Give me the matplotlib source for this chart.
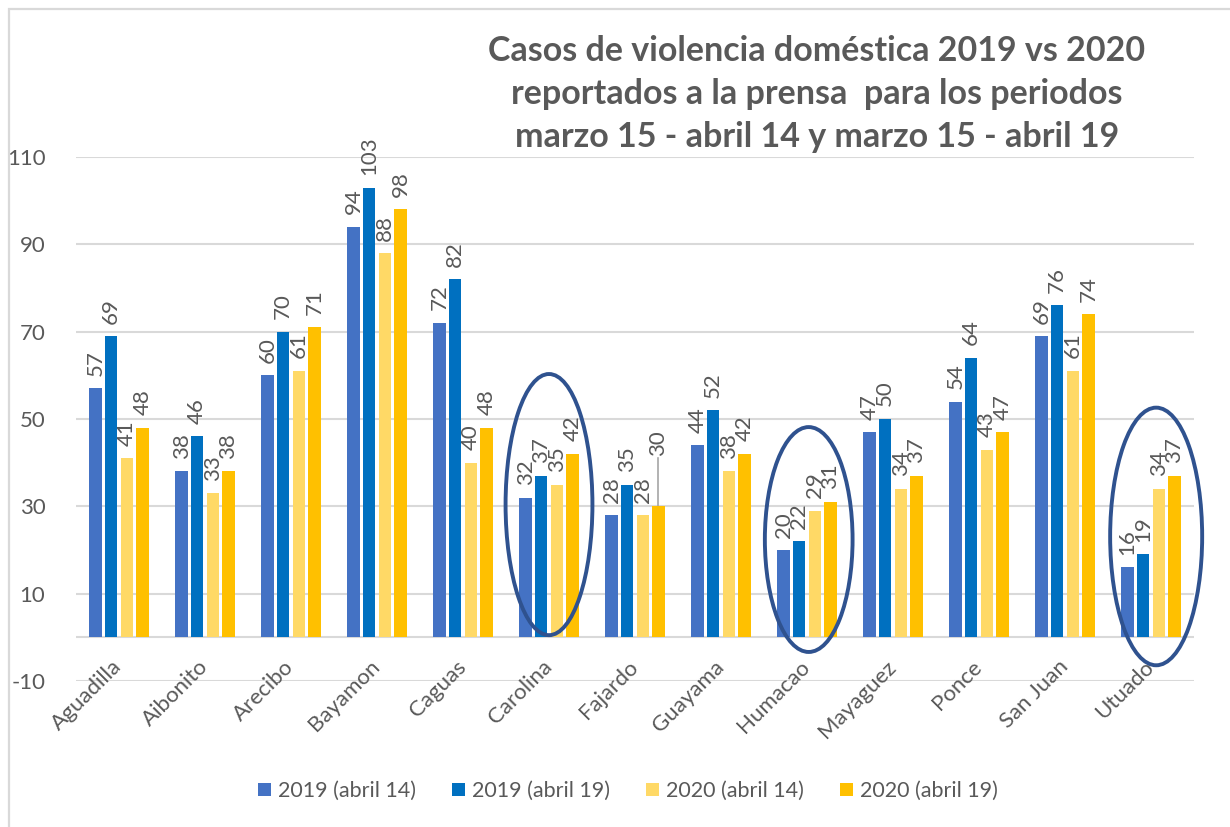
import matplotlib
matplotlib.use("Agg")
import matplotlib.pyplot as plt
from matplotlib.patches import Ellipse, Rectangle
from matplotlib.transforms import offset_copy
import numpy as np

plt.rcParams['font.family'] = ['Lato', 'DejaVu Sans']

categories = ["Aguadilla", "Aibonito", "Arecibo", "Bayamon", "Caguas", "Carolina",
              "Fajardo", "Guayama", "Humacao", "Mayaguez", "Ponce", "San Juan", "Utuado"]
series_names = ["2019 (abril 14)", "2019 (abril 19)", "2020 (abril 14)", "2020 (abril 19)"]
s2019_abr14 = [57, 38, 60, 94, 72, 32, 28, 44, 20, 47, 54, 69, 16]
s2019_abr19 = [69, 46, 70, 103, 82, 37, 35, 52, 22, 50, 64, 76, 19]
s2020_abr14 = [41, 33, 61, 88, 40, 35, 28, 38, 29, 34, 43, 61, 34]
s2020_abr19 = [48, 38, 71, 98, 48, 42, 30, 42, 31, 37, 47, 74, 37]
yticks = [-10, 10, 30, 50, 70, 90, 110]
title = ("Casos de violencia doméstica 2019 vs 2020\n"
         "reportados a la prensa  para los periodos\n"
         "marzo 15 - abril 14 y marzo 15 - abril 19")
highlighted = ["Carolina", "Humacao", "Utuado"]

colors = ["#4472C4", "#0070C0", "#FFD966", "#FFC000"]
text_color = "#595959"
grid_color = "#D9D9D9"

fig = plt.figure(figsize=(12.3, 8.27), dpi=100)
fig.patch.set_facecolor("white")
# outer chart border
fig.add_artist(Rectangle((9/1230, -0.01), 1.02, 1 - 9/827 + 0.01, transform=fig.transFigure,
                         fill=False, edgecolor=grid_color, linewidth=1.6))

ax = fig.add_axes([76/1230, 1 - 681/827, (1194 - 76)/1230, (681 - 157)/827])
series = [s2019_abr14, s2019_abr19, s2020_abr14, s2020_abr19]
x = np.arange(len(categories))
step = 0.182
width = 0.143
for i, (vals, c, name) in enumerate(zip(series, colors, series_names)):
    pos = x + (i - 1.5) * step
    ax.bar(pos, vals, width=width, color=c, label=name, zorder=3)
    for j, (p, v) in enumerate(zip(pos, vals)):
        if categories[j] == "Fajardo" and i == 3:
            lift = 11.5
            ax.plot([p, p], [v, v + lift - 0.5], color="#A6A6A6", lw=1.2, zorder=2)
            ax.text(p, v + lift, str(v), rotation=90, ha="center", va="bottom",
                    fontsize=16, color=text_color, clip_on=False, zorder=4)
        else:
            tr = offset_copy(ax.transData, fig=fig, x=0, y=9, units="points")
            ax.text(p, v, str(v), rotation=90, ha="center", va="bottom",
                    fontsize=16, color=text_color, clip_on=False, zorder=4,
                    transform=tr)

ax.set_xlim(-0.5, len(categories) - 0.5)
ax.set_ylim(-10, 110)
ax.set_yticks(yticks)
ax.set_yticklabels([str(t) for t in yticks], fontsize=16, color=text_color)
ax.tick_params(axis="y", length=0, pad=22)
ax.set_xticks([])
for sp in ax.spines.values():
    sp.set_visible(False)
for t in yticks:
    ax.axhline(t, color=grid_color, lw=1.5, zorder=1)
ax.axhline(0, color=grid_color, lw=1.5, zorder=1)

lab_tr = offset_copy(ax.transData, fig=fig, x=0, y=-19, units="points")
for j, cat in enumerate(categories):
    ax.text(j, 0, cat, rotation=45, ha="right", va="center", rotation_mode="anchor",
            fontsize=16, color=text_color, transform=lab_tr, clip_on=False)

# highlight ellipses (category-centered)
ell_specs = {"Carolina": (0.0, 30.4, 1.01, 59.8),
             "Humacao": (0.02, 22.4, 1.02, 51.5),
             "Utuado": (0.06, 23.1, 1.07, 59.0)}
for cat in highlighted:
    dx, cy, w, h = ell_specs[cat]
    j = categories.index(cat)
    ax.add_patch(Ellipse((j + dx, cy), w, h, fill=False, edgecolor="#2F528F",
                         linewidth=2.8, zorder=5, clip_on=False))

fig.text(817/1230, 1 - 94/827, title, ha="center", va="center", fontsize=24.5,
         fontweight="bold", color=text_color, linespacing=1.42)

leg = fig.legend(loc="center", bbox_to_anchor=(628/1230, 1 - 791/827), ncol=4,
                 frameon=False, fontsize=15.5, handlelength=0.6, handleheight=0.6,
                 handletextpad=0.35, columnspacing=1.65)
for t in leg.get_texts():
    t.set_color(text_color)

fig.savefig("out.png", dpi=100, facecolor="white")
